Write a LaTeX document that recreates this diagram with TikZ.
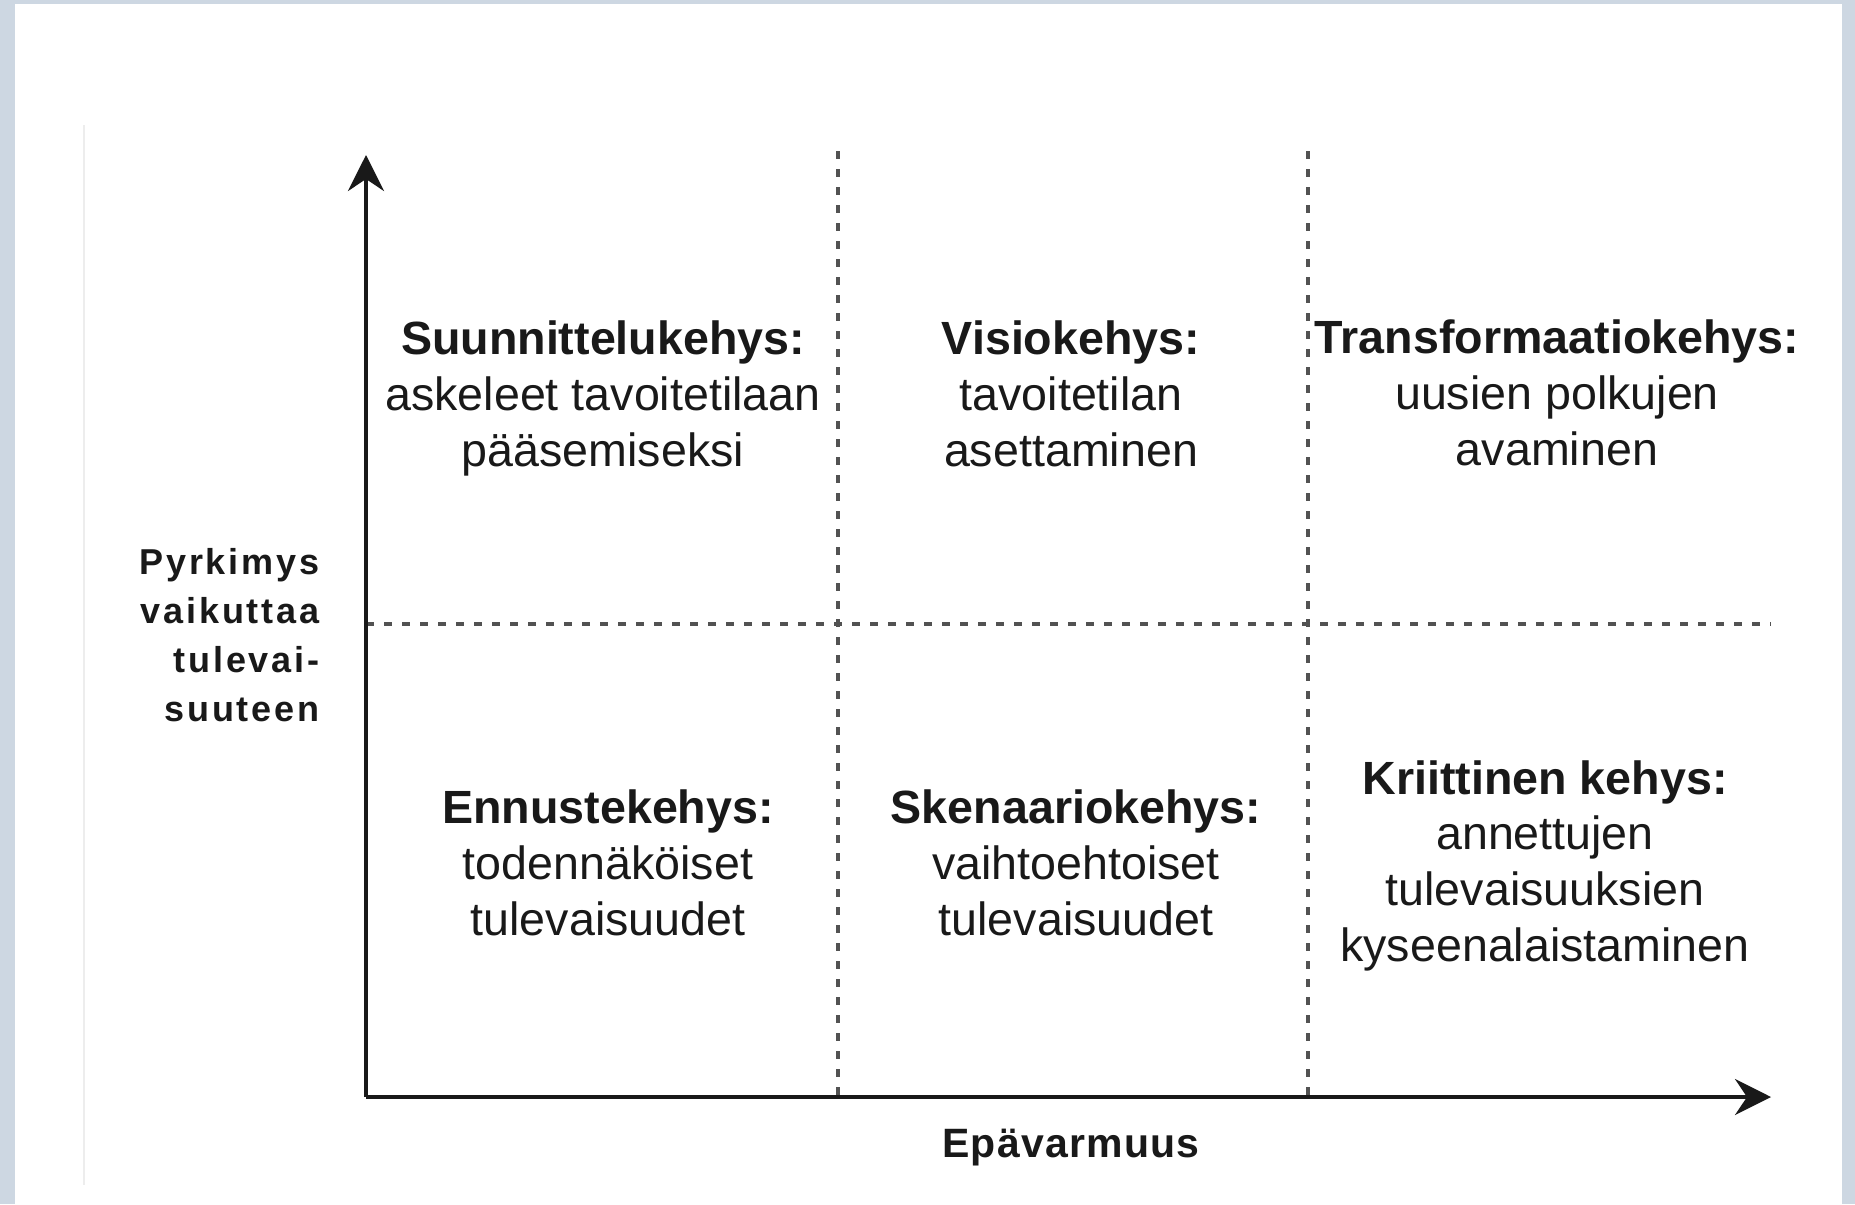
\documentclass[tikz,border=0pt]{standalone}
\usepackage{fontspec}
\setmainfont{Liberation Sans}
\newfontfamily\ylabfont[LetterSpace=8]{Liberation Sans}
\newfontfamily\xlabfont[LetterSpace=3]{Liberation Sans}
\usetikzlibrary{arrows.meta}
\definecolor{framebg}{RGB}{205,215,226}
\definecolor{ink}{RGB}{25,25,25}
\begin{document}
\begin{tikzpicture}[x=0.5pt,y=-0.5pt,
  axis/.style={line width=2pt, draw=ink, -{Stealth[length=18pt,width=18pt,inset=6pt]}},
  divider/.style={line width=1.6pt, draw=ink!75, dash pattern=on 4pt off 5pt},
  quad/.style={align=center, font=\fontsize{23.3}{27.8}\selectfont, text=ink, inner sep=0pt, anchor=base},
  ylab/.style={align=right, font=\ylabfont\bfseries\fontsize{18}{24.5}\selectfont, text=ink, inner sep=0pt, anchor=base east},
  xlab/.style={font=\xlabfont\bfseries\fontsize{20.5}{24}\selectfont, text=ink, inner sep=0pt, anchor=base},
]
\useasboundingbox (0,0) rectangle (1855,1204);
\fill[framebg] (0,0) rectangle (1855,1204);
\fill[white] (15,4) rectangle (1842,1204);
\draw[black!7, line width=1pt] (84,125) -- (84,1185);

\coordinate (O) at (366,1097);
\coordinate (ytop) at (366,155);
\coordinate (xend) at (1771,1097);
\coordinate (v1t) at (838,151);
\coordinate (v1b) at (838,1097);
\coordinate (v2t) at (1308,151);
\coordinate (v2b) at (1308,1097);
\coordinate (hl) at (366,624);
\coordinate (hr) at (1771,624);

\draw[divider] (v1t) -- (v1b);
\draw[divider] (v2t) -- (v2b);
\draw[divider] (hl) -- (hr);
\draw[axis] (O) -- (ytop);
\draw[axis] (O) -- (xend);

% anchor=base of a multi-line node is the baseline of its last line
\node[quad] (q1) at (603,466) {\textbf{Suunnittelukehys:}\\askeleet tavoitetilaan\\pääsemiseksi};
\node[quad] (q2) at (1071,466) {\textbf{Visiokehys:}\\tavoitetilan\\asettaminen};
\node[quad] (q3) at (1557,465) {\textbf{Transformaatiokehys:}\\uusien polkujen\\avaminen};
\node[quad] (q4) at (608,935) {\textbf{Ennustekehys:}\\todennäköiset\\tulevaisuudet};
\node[quad] (q5) at (1076,935) {\textbf{Skenaariokehys:}\\vaihtoehtoiset\\tulevaisuudet};
\node[quad] (q6) at (1545,961) {\textbf{Kriittinen kehys:}\\annettujen\\tulevaisuuksien\\kyseenalaistaminen};

\node[ylab] (ylabel) at (320,721) {Pyrkimys\\vaikuttaa\\tulevai-\\suuteen};
\node[xlab] (xlabel) at (1071,1157) {Epävarmuus};
\end{tikzpicture}
\end{document}
